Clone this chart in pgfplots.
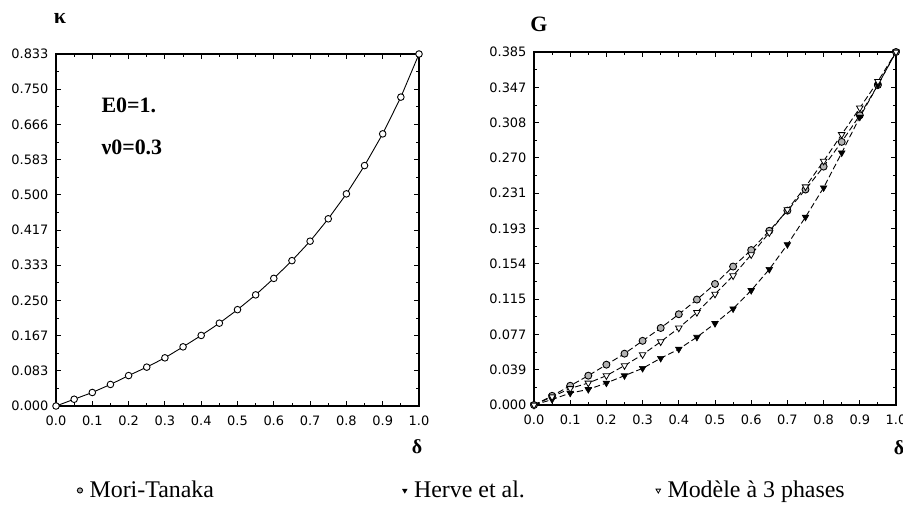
\documentclass[border=0pt]{standalone}
\usepackage{pgfplots}
\pgfplotsset{compat=1.18}
\usepackage{fontspec}
\setmainfont{Liberation Serif}
\newfontfamily\tickfont{DejaVu Sans}
\begin{document}
\begin{tikzpicture}
\path[use as bounding box] (0,0) rectangle (903bp,-507bp);
\pgfplotsset{
  myax/.style={
    scale only axis, anchor=south west, clip=false,
    xmin=0, xmax=1, ymin=0,
    axis line style={line width=1.2bp},
    tick align=inside, tick pos=both,
    major tick length=5bp, minor tick length=3bp,
    every tick/.style={black, line width=0.9bp},
    minor x tick num=1, minor y tick num=1,
    xtick={0,0.1,0.2,0.3,0.4,0.5,0.6,0.7,0.8,0.9,1.0},
    xticklabels={0.0,0.1,0.2,0.3,0.4,0.5,0.6,0.7,0.8,0.9,1.0},
    tick label style={font=\tickfont\fontsize{13}{13}\selectfont},
    xticklabel style={yshift=-6bp},
    yticklabel style={xshift=-4bp},
  }
}
% left axis
\begin{axis}[myax, at={(56bp,-406bp)}, width=363bp, height=352bp, ymax=0.833,
  ytick={0,0.0833,0.1666,0.2499,0.3332,0.4165,0.4998,0.5831,0.6664,0.7497,0.833},
  yticklabels={0.000,0.083,0.167,0.250,0.333,0.417,0.500,0.583,0.666,0.750,0.833}]
\addplot[black, line width=0.9bp, mark=*, mark size=3.3bp, mark options={fill=white, line width=0.9bp}] coordinates {
(0,0) (0.05,0.016) (0.1,0.032) (0.15,0.051) (0.2,0.072) (0.25,0.092) (0.3,0.114)
(0.35,0.140) (0.4,0.167) (0.45,0.196) (0.5,0.228) (0.55,0.263) (0.6,0.302)
(0.65,0.344) (0.7,0.390) (0.75,0.443) (0.8,0.502) (0.85,0.569) (0.9,0.644)
(0.95,0.731) (1.0,0.833)};
\end{axis}
\node[anchor=west, font=\bfseries\fontsize{22}{22}\selectfont] at (98bp,-105bp) {E0=1.};
\node[anchor=west, font=\bfseries\fontsize{22}{22}\selectfont] at (98bp,-147bp) {ν0=0.3};
\node[font=\bfseries\fontsize{22}{22}\selectfont] at (60bp,-18bp) {κ};
\node[font=\bfseries\fontsize{22}{22}\selectfont] at (539bp,-24bp) {G};
\node[font=\bfseries\fontsize{20}{20}\selectfont] at (417bp,-447bp) {δ};
\node[font=\bfseries\fontsize{20}{20}\selectfont] at (899bp,-448bp) {δ};
% right axis
\begin{axis}[myax, at={(534bp,-405bp)}, width=362bp, height=353bp, ymax=0.385,
  ytick={0,0.0385,0.077,0.1155,0.154,0.1925,0.231,0.2695,0.308,0.3465,0.385},
  yticklabels={0.000,0.039,0.077,0.115,0.154,0.193,0.231,0.270,0.308,0.347,0.385},
  legend columns=3,
  legend style={draw=none, fill=none, at={(-1.262,-0.242)}, anchor=west,
    font=\fontsize{24}{24}\selectfont, inner sep=0pt,
    /tikz/every odd column/.append style={column sep=5bp}},
  legend cell align=left,
  legend image code/.code={\draw[#1, only marks, mark size=2.6bp] plot coordinates {(0bp,0bp)};}
]
\addplot[black, line width=0.9bp, dash pattern=on 6bp off 3bp, mark=*, mark size=3.5bp,
  mark options={solid, fill=gray!60, line width=0.9bp}] coordinates {
(0,0) (0.05,0.010) (0.1,0.021) (0.15,0.032) (0.2,0.044) (0.25,0.056) (0.3,0.070)
(0.35,0.084) (0.4,0.099) (0.45,0.115) (0.5,0.132) (0.55,0.151) (0.6,0.169)
(0.65,0.190) (0.7,0.212) (0.75,0.235) (0.8,0.260) (0.85,0.287) (0.9,0.316)
(0.95,0.349) (1.0,0.385)};
\addlegendentry{\makebox[311bp][l]{Mori-Tanaka}}
\addplot[black, line width=0.9bp, dash pattern=on 6bp off 3bp, mark=triangle*, mark size=3.8bp,
  mark options={solid, rotate=180, fill=black, line width=0.6bp}] coordinates {
(0,0) (0.05,0.006) (0.1,0.013) (0.15,0.017) (0.2,0.024) (0.25,0.032) (0.3,0.040)
(0.35,0.051) (0.4,0.061) (0.45,0.074) (0.5,0.089) (0.55,0.105) (0.6,0.125)
(0.65,0.148) (0.7,0.175) (0.75,0.205) (0.8,0.237) (0.85,0.275) (0.9,0.314)
(0.95,0.349) (1.0,0.385)};
\addlegendentry{\makebox[240bp][l]{Herve et al.}}
\addplot[black, line width=0.9bp, dash pattern=on 6bp off 3bp, mark=triangle*, mark size=3.8bp,
  mark options={solid, rotate=180, fill=white, line width=0.8bp}] coordinates {
(0,0) (0.05,0.009) (0.1,0.018) (0.15,0.024) (0.2,0.032) (0.25,0.043) (0.3,0.055)
(0.35,0.069) (0.4,0.084) (0.45,0.101) (0.5,0.121) (0.55,0.141) (0.6,0.164)
(0.65,0.188) (0.7,0.213) (0.75,0.238) (0.8,0.266) (0.85,0.295) (0.9,0.324)
(0.95,0.353) (1.0,0.385)};
\addlegendentry{Modèle à 3 phases}
\end{axis}
\end{tikzpicture}
\end{document}
